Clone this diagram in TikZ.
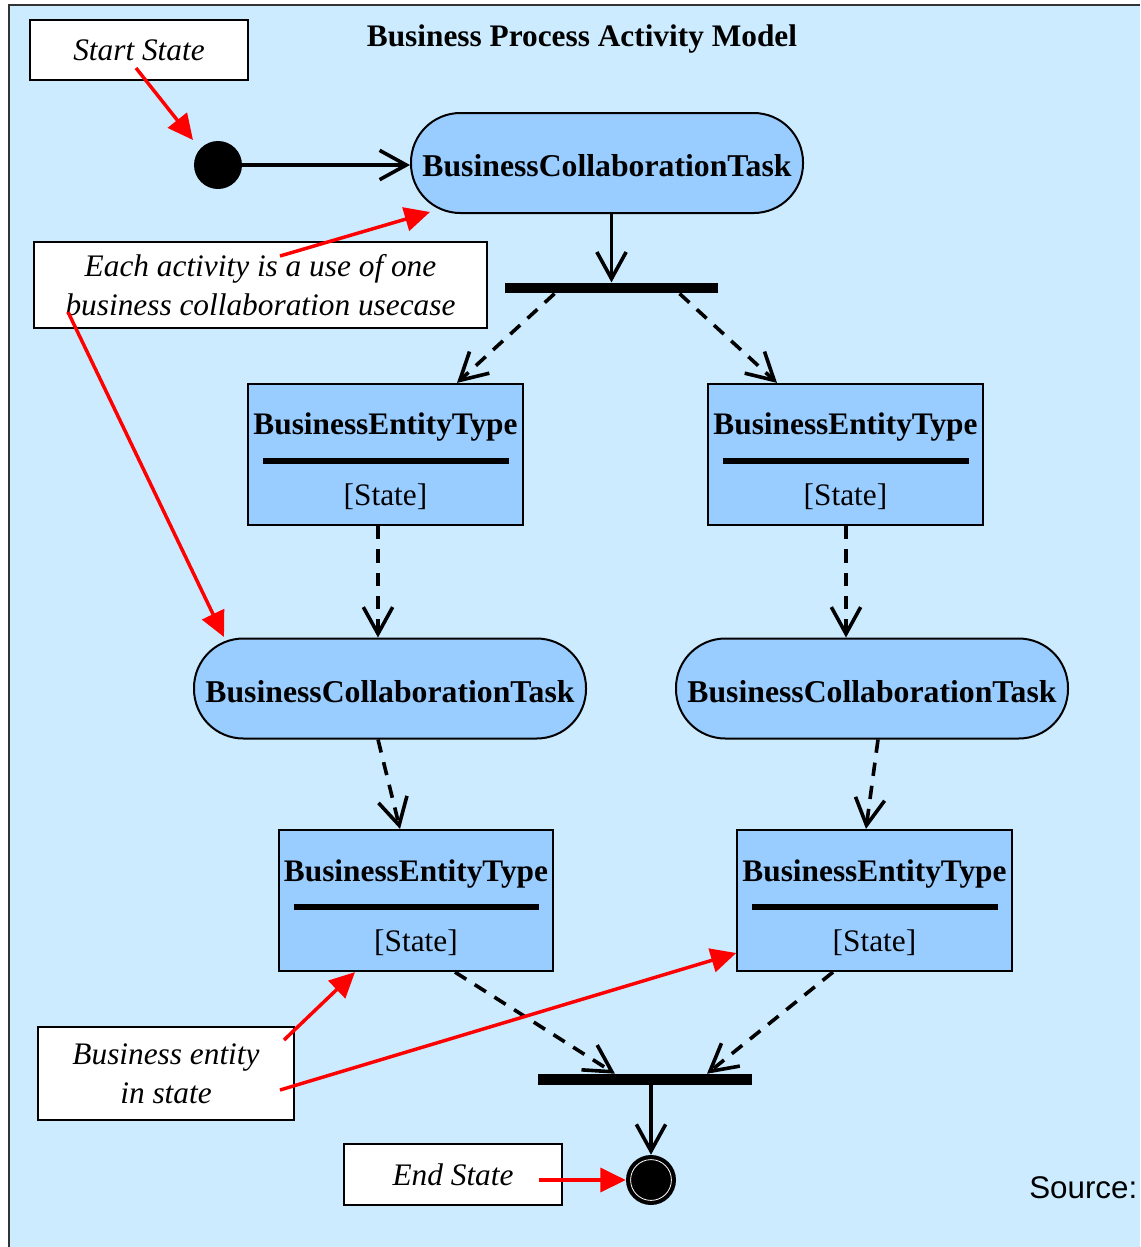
\documentclass[tikz,border=0pt]{standalone}
\usepackage{fontspec}
\setmainfont{Liberation Serif}
\newfontfamily\srcfont{Liberation Sans}
\usetikzlibrary{arrows.meta,calc}
\definecolor{bgblue}{RGB}{204,235,255}
\definecolor{taskblue}{RGB}{153,204,255}
\newcommand{\bizent}[3]{%
  \node[ent] (#1) at (#2,#3) {};
  \node[font=\fontsize{23.5}{29}\selectfont\bfseries] (#1t) at ($(#1.center)+(0,-27)$) {BusinessEntityType};
  \draw[line width=4.5pt] ($(#1.west)+(16,6.5)$) -- ($(#1.east)+(-15,6.5)$);
  \node (#1s) at ($(#1.center)+(0,42.5)$) {[State]};
}
\begin{document}
\begin{tikzpicture}[x=0.75pt,y=-0.75pt,
 font=\fontsize{23.5}{29}\selectfont,
 task/.style={draw,line width=1.5pt,fill=taskblue,rounded corners=37pt,minimum width=294pt,minimum height=75pt,inner sep=0pt,text height=20.5pt,text depth=0pt,font=\fontsize{23.8}{29}\selectfont\bfseries},
 ent/.style={draw,line width=1.4pt,fill=taskblue,minimum width=206pt,minimum height=106pt,inner sep=0pt},
 note/.style={draw,line width=1.4pt,fill=white,inner sep=0pt,align=center,font=\fontsize{23.5}{29}\selectfont\itshape},
 bar/.style={fill=black,inner sep=0pt,minimum width=160pt,minimum height=8pt},
 flow/.style={line width=2.7pt,-{Straight Barb[length=20pt,width=22pt,line width=2.7pt]}},
 dflow/.style={flow,dash pattern=on 10pt off 7.5pt},
 redarr/.style={red,line width=2.6pt,-{Triangle[length=19pt,width=18pt]}},
]
\useasboundingbox (0,0) rectangle (1140,1247);
\fill[bgblue] (9,5) rectangle (1140,1247);
\draw[line width=1.5pt,black!80] (9,1247) -- (9,5) -- (1140,5);

\node[font=\fontsize{23.5}{29}\selectfont\bfseries] (title) at (582,39) {Business Process Activity Model};

% notes
\node[note,minimum width=163.5pt,minimum height=45pt] (startnote) at (139,50) {Start State};
\node[note,minimum width=339.75pt,minimum height=64.5pt] (note1) at (260.5,285) {Each activity is a use of one\\business collaboration usecase};
\node[note,minimum width=192pt,minimum height=69.75pt] (note2) at (166,1073.5) {Business entity\\in state};
\node[note,minimum width=163.5pt,minimum height=45.75pt] (endnote) at (453,1174.5) {End State};

% states
\node[circle,fill=black,minimum size=36pt,inner sep=0pt] (s) at (218,165) {};
\node[circle,fill=black,minimum size=37.5pt,inner sep=0pt] (e) at (651,1180) {};
\draw[white,line width=0.6pt] (e.center) circle[radius=15.3pt];

% tasks
\node[task] (t1) at (607,163) {BusinessCollaborationTask};
\node[task] (m1) at (390,688.5) {BusinessCollaborationTask};
\node[task] (m2) at (872,688.5) {BusinessCollaborationTask};

% bars
\node[bar] (fork) at (611.5,288) {};
\node[bar,minimum width=160.5pt,minimum height=8.25pt] (join) at (645,1079.5) {};

% entities
\bizent{e1}{385.5}{454.5}
\bizent{e2}{845.5}{454.5}
\bizent{e3}{416}{900.5}
\bizent{e4}{874.5}{900.5}

\node[font=\srcfont\fontsize{23.5}{29}\selectfont,anchor=west,inner sep=0pt] (src) at (1029,1188) {Source:};

% flows
\draw[flow] (s.east) -- (s.east -| t1.west);
\draw[flow] (t1.south -| fork.north) -- (fork.north);
\draw[dflow] ($(fork.south west)+(50,0)$) -- ($(e1.north)+(71.5,0)$);
\draw[dflow] ($(fork.south west)+(175,0)$) -- ($(e2.north)+(-68.5,0)$);
\draw[dflow] ($(e1.south)+(-7.5,0)$) -- ($(m1.north)+(-12,0)$);
\draw[dflow] ($(e2.south)+(0.5,0)$) -- ($(m2.north)+(-26,0)$);
\draw[dflow] ($(m1.south)+(-12,0)$) -- ($(e3.north)+(-16,0)$);
\draw[dflow] ($(m2.south)+(6,0)$) -- ($(e4.north)+(-8.5,0)$);
\draw[dflow] ($(e3.south)+(39,0)$) -- ($(join.north)+(-30,0)$);
\draw[dflow] ($(e4.south)+(-41.5,0)$) -- ($(join.north)+(62,0)$);
\draw[flow] ($(join.south)+(6,0)$) -- (e.north);

% red annotation arrows
\draw[redarr] ($(startnote.center)+(-3,18)$) -- ($(s.center)+(-25,-25)$);
\draw[redarr] ($(note1.center)+(19.5,-29)$) -- ($(t1.center)+(-177,49)$);
\draw[redarr] ($(note1.center)+(-192.5,27)$) -- ($(m1.center)+(-166,-51.5)$);
\draw[redarr] ($(note2.center)+(118,-33.5)$) -- ($(e3.south)+(-61,0)$);
\draw[redarr] ($(note2.center)+(114,16.5)$) -- ($(e4.west)+(0,52.5)$);
\draw[redarr] (e.west -| endnote.east) ++(-24,0) -- (e.west);
\end{tikzpicture}
\end{document}
